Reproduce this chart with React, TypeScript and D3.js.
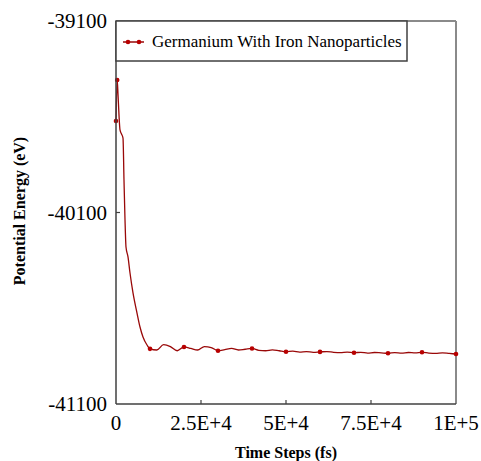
import React from "react";
import * as d3 from "d3";

const seriesName = "Germanium With Iron Nanoparticles";

const times = [
  0, 350, 600, 880, 1180, 1620, 2060, 2350, 2650, 2940, 3530, 4120, 5000, 6180, 7060, 7940, 9120,
  10000, 12000, 14000, 16000, 18000, 20000, 22000, 24000, 26000, 28000, 30000, 32000, 34000, 36000,
  38000, 40000, 42000, 44000, 46000, 48000, 50000, 52000, 54000, 56000, 58000, 60000, 62000, 64000,
  66000, 68000, 70000, 72000, 74000, 76000, 78000, 80000, 82000, 84000, 86000, 88000, 90000, 92000,
  94000, 96000, 98000, 100000,
];

const energies = [
  -39622, -39408, -39486, -39591, -39669, -39690, -39711, -39930, -40139, -40280, -40332, -40416,
  -40520, -40625, -40698, -40750, -40792,
  -40812, -40818, -40790, -40800, -40822, -40802, -40810, -40818, -40800, -40805, -40822, -40816,
  -40810, -40818, -40814, -40810, -40820, -40822, -40817, -40822, -40827, -40824, -40829, -40826,
  -40830, -40828, -40826, -40830, -40832, -40829, -40832, -40830, -40834, -40831, -40833, -40835,
  -40832, -40834, -40831, -40833, -40830, -40834, -40836, -40833, -40836, -40839,
];

const markerTimes = [0, 350, 10000, 20000, 30000, 40000, 50000, 60000, 70000, 80000, 90000, 100000];

const xTicks = [0, 25000, 50000, 75000, 100000];
const xTickLabels = ["0", "2.5E+4", "5E+4", "7.5E+4", "1E+5"];
const yTicks = [-39100, -40100, -41100];
const yTickLabels = ["-39100", "-40100", "-41100"];

const serif = "'Liberation Serif', 'Times New Roman', serif";

export default function App() {
  const left = 116, right = 456, top = 21, bottom = 404;
  const x = d3.scaleLinear().domain([0, 100000]).range([left, right]);
  const y = d3.scaleLinear().domain([-41100, -39100]).range([bottom, top]);

  const data = times.map((t, i) => ({ t, v: energies[i] }));
  const line = d3
    .line<{ t: number; v: number }>()
    .x((d) => x(d.t))
    .y((d) => y(d.v))
    .curve(d3.curveMonotoneX);

  const markers = data.filter((d) => markerTimes.includes(d.t));
  const lineColor = "#990808";
  const markerColor = "#b80000";

  return (
    <svg
      width={481}
      height={461}
      style={{ position: "absolute", left: 0, top: 0, background: "#fff" }}
    >
      {/* frame top and right */}
      <line x1={left} x2={right} y1={top} y2={top} stroke="#8a8a8a" strokeWidth={2} />
      <line x1={right} x2={right} y1={top} y2={bottom} stroke="#8a8a8a" strokeWidth={2} />

      {/* data */}
      <path d={line(data) || ""} fill="none" stroke={lineColor} strokeWidth={1.3} />
      {markers.map((d, i) => (
        <circle key={i} cx={x(d.t)} cy={y(d.v)} r={2.3} fill={markerColor} />
      ))}

      {/* axes */}
      <line x1={left} x2={left} y1={top} y2={bottom} stroke="#404040" strokeWidth={1.5} />
      <line x1={left} x2={right} y1={bottom} y2={bottom} stroke="#404040" strokeWidth={1.5} />

      {xTicks.map((t, i) => (
        <g key={"xt" + i}>
          {i > 0 && i < xTicks.length - 1 && (
            <line x1={x(t)} x2={x(t)} y1={bottom} y2={bottom - 4} stroke="#404040" strokeWidth={1.2} />
          )}
          <text
            x={x(t)}
            y={430}
            textAnchor="middle"
            fontFamily={serif}
            fontSize={21}
            fill="#000"
          >
            {xTickLabels[i]}
          </text>
        </g>
      ))}

      {yTicks.map((v, i) => (
        <g key={"yt" + i}>
          {i > 0 && i < yTicks.length - 1 && (
            <line x1={left} x2={left + 4} y1={y(v)} y2={y(v)} stroke="#404040" strokeWidth={1.2} />
          )}
          <text
            x={107}
            y={y(v)}
            dy="0.35em"
            textAnchor="end"
            fontFamily={serif}
            fontSize={21}
            fill="#000"
          >
            {yTickLabels[i]}
          </text>
        </g>
      ))}

      {/* axis titles */}
      <text
        x={(left + right) / 2}
        y={458}
        textAnchor="middle"
        fontFamily={serif}
        fontWeight="bold"
        fontSize={16}
        fill="#000"
      >
        Time Steps (fs)
      </text>
      <text
        transform={`translate(25,${211}) rotate(-90)`}
        textAnchor="middle"
        fontFamily={serif}
        fontWeight="bold"
        fontSize={16}
        fill="#000"
      >
        Potential Energy (eV)
      </text>

      {/* legend */}
      <rect x={left} y={top} width={291} height={40} fill="#fff" stroke="#404040" strokeWidth={1.5} />
      <line x1={123} x2={144} y1={42} y2={42} stroke={lineColor} strokeWidth={1.5} />
      <circle cx={128} cy={42} r={2.3} fill={markerColor} />
      <circle cx={139} cy={42} r={2.3} fill={markerColor} />
      <text x={152} y={47} fontFamily={serif} fontSize={17} fill="#000">
        {seriesName}
      </text>
    </svg>
  );
}
